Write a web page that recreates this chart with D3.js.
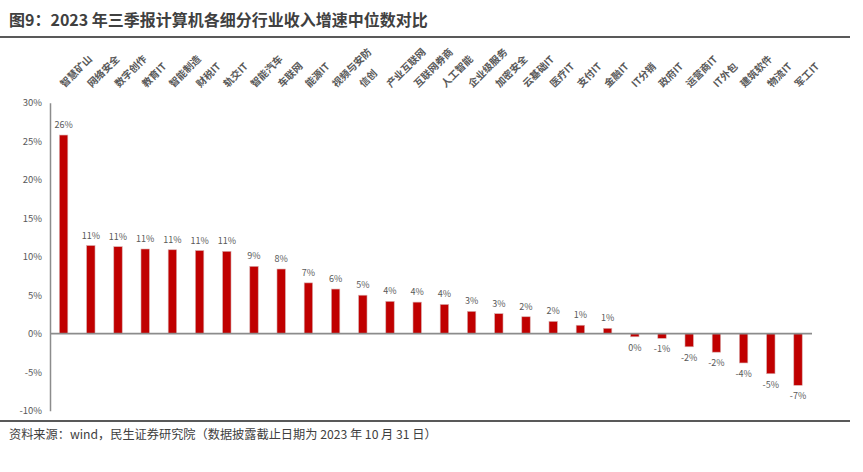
<!DOCTYPE html>
<html>
<head>
<meta charset="utf-8">
<script src="https://cdn.jsdelivr.net/npm/d3@7"></script>
<style>
  html, body { margin: 0; padding: 0; background: #ffffff; }
  svg { display: block; }
</style>
</head>
<body>
<svg id="chart" width="863" height="472"></svg>
<script>
const title = "图9：2023 年三季报计算机各细分行业收入增速中位数对比";
const source = "资料来源：wind，民生证券研究院（数据披露截止日期为 2023 年 10 月 31 日）";
const categories = ["智慧矿山","网络安全","数字创作","教育IT","智能制造","财税IT","轨交IT","智能汽车","车联网","能源IT","视频与安防","信创","产业互联网","互联网券商","人工智能","企业级服务","加密安全","云基础IT","医疗IT","支付IT","金融IT","IT分销","政府IT","运营商IT","IT外包","建筑软件","物流IT","军工IT"];
const values = [25.8, 11.45, 11.3, 11.0, 10.9, 10.8, 10.7, 8.75, 8.4, 6.6, 5.8, 5.0, 4.2, 4.1, 3.8, 2.9, 2.6, 2.2, 1.6, 1.1, 0.7, -0.4, -0.6, -1.7, -2.4, -3.8, -5.2, -6.7];
const yTicks = [-10, -5, 0, 5, 10, 15, 20, 25, 30];

const svg = d3.select("#chart");
const font = "'Noto Sans CJK SC', 'Noto Sans', sans-serif";

// Title and rules
svg.append("text").attr("x", 9).attr("y", 26)
  .attr("font-family", font).attr("font-size", 16).attr("font-weight", "bold")
  .attr("fill", "#404040").text(title);
svg.append("line").attr("x1", 0).attr("x2", 850).attr("y1", 37).attr("y2", 37)
  .attr("stroke", "#595959").attr("stroke-width", 2);
svg.append("line").attr("x1", 0).attr("x2", 850).attr("y1", 421).attr("y2", 421)
  .attr("stroke", "#595959").attr("stroke-width", 2);
svg.append("text").attr("x", 9).attr("y", 439)
  .attr("font-family", font).attr("font-size", 12.2)
  .attr("fill", "#404040").text(source);

const x = d3.scaleBand().domain(categories).range([50, 811.6]).paddingInner(0.69).paddingOuter(0.345);
const y = d3.scaleLinear().domain([-10, 30]).range([410.7, 102.7]);

// Y axis
const yAxis = d3.axisLeft(y).tickValues(yTicks).tickSize(0).tickPadding(8)
  .tickFormat(d => d + "%");
const gy = svg.append("g").attr("transform", "translate(50,0)").call(yAxis);
gy.select(".domain").attr("stroke", "#8c8c8c").attr("stroke-width", 1.5);
gy.selectAll("text").attr("font-family", font).attr("font-size", 9.5).attr("fill", "#595959");

// Bars
const data = categories.map((c, i) => ({ c, v: values[i] }));
svg.append("g").selectAll("rect").data(data).join("rect")
  .attr("x", d => x(d.c))
  .attr("width", x.bandwidth())
  .attr("y", d => y(Math.max(0, d.v)))
  .attr("height", d => Math.abs(y(d.v) - y(0)))
  .attr("fill", "#C00000")
  .attr("stroke", "#d8b0b0").attr("stroke-width", 0.6);

// Baseline (category axis)
svg.append("line").attr("x1", 50).attr("x2", 812).attr("y1", y(0)).attr("y2", y(0))
  .attr("stroke", "#8c8c8c").attr("stroke-width", 1.8);

// Value labels
const fmt = v => { const r = Math.round(v); return (r === 0 ? 0 : r) + "%"; };
svg.append("g").selectAll("text").data(data).join("text")
  .attr("x", d => x(d.c) + x.bandwidth() / 2)
  .attr("y", d => d.v >= 0 ? y(d.v) - 7 : y(d.v) + 14)
  .attr("text-anchor", "middle")
  .attr("font-family", font).attr("font-size", 9)
  .attr("fill", "#595959")
  .text(d => fmt(d.v));

// Category axis labels at top, rotated
const xAxis = d3.axisTop(x).tickSize(0).tickPadding(0);
const gx = svg.append("g").attr("transform", "translate(0,88)").call(xAxis);
gx.select(".domain").remove();
gx.selectAll("text")
  .attr("font-family", font).attr("font-size", 10).attr("font-weight", "bold")
  .attr("fill", "#595959")
  .attr("text-anchor", "start")
  .attr("dy", "0")
  .attr("y", 0)
  .attr("transform", "translate(1,0) rotate(-45)");
</script>
</body>
</html>
